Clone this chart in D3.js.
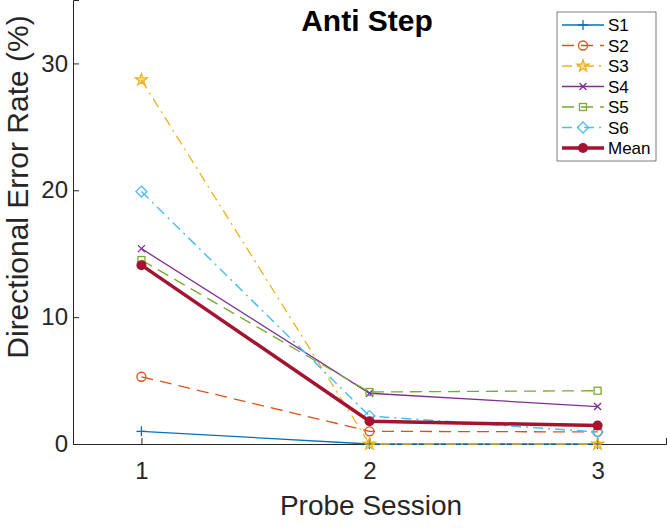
<!DOCTYPE html>
<html>
<head>
<meta charset="utf-8">
<script src="https://d3js.org/d3.v7.min.js"></script>
<style>
  body { margin: 0; background: #fff; }
  svg { font-family: "Liberation Sans", Arial, sans-serif; }
</style>
</head>
<body>
<script>
  const sessions = [1, 2, 3];
  const seriesNames = ["S1", "S2", "S3", "S4", "S5", "S6", "Mean"];
  const s1 = [1.0, 0, 0];
  const s2 = [5.3, 1.0, 0.95];
  const s3 = [28.7, 0, 0];
  const s4 = [15.4, 4.0, 2.95];
  const s5 = [14.5, 4.1, 4.2];
  const s6 = [19.9, 2.2, 0.95];
  const mean = [14.1, 1.8, 1.45];
  const yTicks = [0, 10, 20, 30];

  const W = 667, H = 528;
  const svg = d3.select("body").append("svg")
    .attr("width", W).attr("height", H);

  const x = d3.scaleLinear().domain([0.7, 3.3]).range([73, 666]);
  const y = d3.scaleLinear().domain([0, 35]).range([444, 0]);

  // axes (ticks inward like matlab)
  const xAxis = svg.append("g")
    .attr("transform", "translate(0," + y(0) + ")")
    .call(d3.axisBottom(x).tickValues(sessions).tickSize(-6).tickPadding(18).tickFormat(d3.format("d")));
  const yAxis = svg.append("g")
    .attr("transform", "translate(" + x(0.7) + ",0)")
    .call(d3.axisLeft(y).tickValues(yTicks).tickSize(-6).tickPadding(5));
  [xAxis, yAxis].forEach(function(a) {
    a.select(".domain").attr("stroke", "#262626").attr("stroke-width", 1);
    a.selectAll(".tick line").attr("stroke", "#262626");
    a.selectAll(".tick text").attr("fill", "#262626").style("font-size", "24px");
  });

  svg.append("text").attr("x", 371).attr("y", 515)
    .attr("text-anchor", "middle").attr("fill", "#262626")
    .style("font-size", "28px").text("Probe Session");
  svg.append("text")
    .attr("transform", "translate(28,187) rotate(-90)")
    .attr("text-anchor", "middle").attr("fill", "#262626")
    .style("font-size", "30px").text("Directional Error Rate (%)");
  svg.append("text").attr("x", 367).attr("y", 31)
    .attr("text-anchor", "middle").attr("fill", "#000")
    .style("font-size", "30px").style("font-weight", "bold").text("Anti Step");

  const series = [
    { name: "S1", vals: s1, color: "#0072BD", dash: null, w: 1.3, marker: "plus" },
    { name: "S2", vals: s2, color: "#D95319", dash: "12,7", w: 1.3, marker: "circle" },
    { name: "S3", vals: s3, color: "#EDB120", dash: "10,5,2,5", w: 1.3, marker: "star" },
    { name: "S4", vals: s4, color: "#7E2F8E", dash: null, w: 1.3, marker: "x" },
    { name: "S5", vals: s5, color: "#77AC30", dash: "12,7", w: 1.3, marker: "square" },
    { name: "S6", vals: s6, color: "#4DBEEE", dash: "10,5,2,5", w: 1.5, marker: "diamond" },
    { name: "Mean", vals: mean, color: "#A2142F", dash: null, w: 3.5, marker: "dot" }
  ];

  const line = d3.line()
    .x(function(d, i) { return x(sessions[i]); })
    .y(function(d) { return y(d); });

  function drawMarker(g, type, color) {
    if (type === "plus") {
      g.append("path").attr("d", "M-5,0H5M0,-5V5").attr("stroke", color).attr("stroke-width", 1.3).attr("fill", "none");
    } else if (type === "circle") {
      g.append("circle").attr("r", 4.5).attr("stroke", color).attr("stroke-width", 1.3).attr("fill", "none");
    } else if (type === "star") {
      g.append("path").attr("d", d3.symbol(d3.symbolStar, 45)()).attr("stroke", color)
        .attr("stroke-width", 1.2).attr("fill", color).attr("fill-opacity", 0.45);
    } else if (type === "x") {
      g.append("path").attr("d", "M-3.5,-3.5L3.5,3.5M-3.5,3.5L3.5,-3.5").attr("stroke", color).attr("stroke-width", 1.3).attr("fill", "none");
    } else if (type === "square") {
      g.append("rect").attr("x", -3.5).attr("y", -3.5).attr("width", 7).attr("height", 7)
        .attr("stroke", color).attr("stroke-width", 1.3).attr("fill", "none");
    } else if (type === "diamond") {
      g.append("path").attr("d", "M0,-5.5L5.5,0L0,5.5L-5.5,0Z").attr("stroke", color).attr("stroke-width", 1.3).attr("fill", "none");
    } else if (type === "dot") {
      g.append("circle").attr("r", 5).attr("fill", color);
    }
  }

  series.forEach(function(s) {
    svg.append("path").datum(s.vals)
      .attr("d", line)
      .attr("fill", "none")
      .attr("stroke", s.color)
      .attr("stroke-width", s.w)
      .attr("stroke-dasharray", s.dash);
    s.vals.forEach(function(v, i) {
      const g = svg.append("g")
        .attr("transform", "translate(" + x(sessions[i]) + "," + y(v) + ")");
      drawMarker(g, s.marker, s.color);
    });
  });

  // legend
  const lg = svg.append("g").attr("transform", "translate(557,12)");
  lg.append("rect").attr("width", 99).attr("height", 149)
    .attr("fill", "#fff").attr("stroke", "#262626").attr("stroke-width", 0.6);
  series.forEach(function(s, i) {
    const yy = 13 + i * 20.5;
    lg.append("line").attr("x1", 5).attr("x2", 47).attr("y1", yy).attr("y2", yy)
      .attr("stroke", s.color).attr("stroke-width", s.w)
      .attr("stroke-dasharray", s.dash);
    const g = lg.append("g").attr("transform", "translate(26," + yy + ")");
    drawMarker(g, s.marker, s.color);
    lg.append("text").attr("x", 51).attr("y", yy + 6)
      .attr("fill", "#000").style("font-size", "17px").text(seriesNames[i]);
  });
</script>
</body>
</html>
